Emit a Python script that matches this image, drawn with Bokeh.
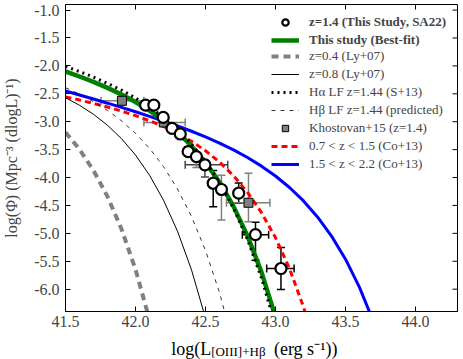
import math
from bokeh.plotting import figure
from bokeh.layouts import column
from bokeh.models import (ColumnDataSource, Whisker, TeeHead, Legend, LegendItem,
                          FixedTicker, Range1d)
from bokeh.core.properties import value
from bokeh.embed import file_html
from bokeh.resources import INLINE

# ---------------- data ----------------
x_ticks = [41.5, 42.0, 42.5, 43.0, 43.5, 44.0]
x_tick_labels = ["41.5", "42.0", "42.5", "43.0", "43.5", "44.0"]
y_ticks = [-6.0, -5.5, -5.0, -4.5, -4.0, -3.5, -3.0, -2.5, -2.0, -1.5, -1.0]
y_tick_labels = ["-6.0", "-5.5", "-5.0", "-4.5", "-4.0", "-3.5", "-3.0", "-2.5", "-2.0", "-1.5", "-1.0"]

# This study data points (z=1.4, SA22)
obs_logL = [42.072, 42.131, 42.198, 42.261, 42.320, 42.376, 42.435, 42.496, 42.555, 42.614, 42.737, 42.857, 43.039]
obs_phi = [-2.702, -2.702, -2.923, -3.120, -3.220, -3.536, -3.625, -3.773, -4.102, -4.214, -4.280, -5.023, -5.630]
obs_phi_lo = [-2.75, -2.75, -2.98, -3.18, -3.29, -3.62, -3.82, -3.99, -4.525, -4.76, -4.46, -5.48, -6.005]
obs_phi_hi = [-2.65, -2.65, -2.87, -3.06, -3.15, -3.45, -3.57, -3.69, -3.875, -3.96, -4.10, -4.80, -5.255]
obs_logL_lo = [42.072, 42.131, 42.198, 42.261, 42.320, 42.376, 42.435, 42.355, 42.555, 42.614, 42.737, 42.763, 42.937]
obs_logL_hi = [42.072, 42.131, 42.198, 42.261, 42.320, 42.376, 42.435, 42.659, 42.555, 42.614, 42.737, 42.951, 43.133]
obs_err_color = ["black", "black", "black", "black", "black", "black", "gray", "#444444",
                 "black", "gray", "black", "black", "black"]

# Khostovan+15 (z=1.4)
kh_logL = [41.903, 42.202, 42.807]
kh_phi = [-2.625, -3.013, -4.452]
kh_phi_lo = [-2.70, -3.06, -4.793]
kh_phi_hi = [-2.55, -2.97, -3.923]
kh_logL_lo = [41.754, 42.060, 42.650]
kh_logL_hi = [42.060, 42.355, 42.960]

# Curves
best_logL = [41.5, 41.6, 41.7, 41.8, 41.9, 42.0, 42.1, 42.2, 42.3, 42.4, 42.5, 42.6, 42.7, 42.8, 42.9, 43.0, 43.1]
best_phi = [-2.100, -2.190, -2.287, -2.394, -2.513, -2.647, -2.801, -2.978, -3.187, -3.433,
            -3.728, -4.084, -4.517, -5.045, -5.695, -6.498, -7.493]

ha_logL = [41.5, 41.6, 41.7, 41.8, 41.9, 42.0, 42.1, 42.2, 42.3, 42.4, 42.5, 42.6, 42.7, 42.8, 42.9, 43.0, 43.1]
ha_phi = [-2.010, -2.102, -2.202, -2.312, -2.435, -2.575, -2.735, -2.922, -3.140, -3.400,
          -3.712, -4.089, -4.548, -5.110, -5.802, -6.659, -7.721]

ly04_logL = [41.5, 41.6, 41.7, 41.8, 41.9, 42.0, 42.1]
ly04_phi = [-3.190, -3.496, -3.873, -4.341, -4.922, -5.645, -6.548]

ly08_logL = [41.5, 41.6, 41.7, 41.8, 41.9, 42.0, 42.1, 42.2, 42.3, 42.4, 42.5]
ly08_phi = [-2.570, -2.705, -2.867, -3.064, -3.303, -3.597, -3.958, -4.406, -4.962, -5.654, -6.518]

hb_logL = [41.5, 41.6, 41.7, 41.8, 41.9, 42.0, 42.1, 42.2, 42.3, 42.4, 42.5, 42.6, 42.7]
hb_phi = [-2.390, -2.506, -2.640, -2.798, -2.984, -3.207, -3.477, -3.804, -4.205, -4.698, -5.306, -6.061, -6.999]

co_lo_logL = [41.5, 41.6, 41.7, 41.8, 41.9, 42.0, 42.1, 42.2, 42.3, 42.4, 42.5, 42.6, 42.7, 42.8,
              42.9, 43.0, 43.1, 43.2, 43.3]
co_lo_phi = [-2.555, -2.611, -2.672, -2.737, -2.810, -2.890, -2.982, -3.086, -3.208, -3.351, -3.520,
             -3.722, -3.967, -4.265, -4.629, -5.077, -5.631, -6.318, -7.173]

co_hi_logL = [41.5, 41.6, 41.7, 41.8, 41.9, 42.0, 42.1, 42.2, 42.3, 42.4, 42.5, 42.6, 42.7, 42.8,
              42.9, 43.0, 43.1, 43.2, 43.3, 43.4, 43.5, 43.6, 43.7]
co_hi_phi = [-2.450, -2.522, -2.594, -2.668, -2.744, -2.822, -2.903, -2.987, -3.076, -3.171, -3.272,
             -3.383, -3.505, -3.641, -3.796, -3.973, -4.178, -4.419, -4.705, -5.048, -5.463, -5.967, -6.585]

legend_labels = ["z=1.4 (This Study, SA22)", "This study (Best-fit)", "z=0.4 (Ly+07)",
                 "z=0.8 (Ly+07)", "H\u03b1 LF z=1.44 (S+13)", "H\u03b2 LF z=1.44 (predicted)",
                 "Khostovan+15 (z=1.4)", "0.7 < z < 1.5 (Co+13)", "1.5 < z < 2.2 (Co+13)"]

y_label = "log(\u03a6) (Mpc\u207b\u00b3 (dlogL)\u207b\u00b9)"
x_label_parts = ["log(L", "[OIII]+H\u03b2", "(erg s\u207b\u00b9))"]

X_MIN, X_MAX = 41.5, 44.3
Y_MIN, Y_MAX = -6.4, -0.9

# ---------------- main figure ----------------
SERIF = "Liberation Serif"
W = 463
MAIN_H = 335
LAB_H = 24
BORDER_L, BORDER_R = 64, 6
p = figure(width=W, height=MAIN_H, output_backend="svg", toolbar_location=None,
           x_range=Range1d(X_MIN, X_MAX), y_range=Range1d(Y_MIN, Y_MAX),
           min_border_left=BORDER_L, min_border_right=BORDER_R, min_border_top=4, min_border_bottom=24)
p.grid.visible = False
p.outline_line_color = "black"
p.background_fill_color = "white"

for ax, ticks, labels in ((p.xaxis[0], x_ticks, x_tick_labels), (p.yaxis[0], y_ticks, y_tick_labels)):
    ax.ticker = FixedTicker(ticks=ticks)
    ax.major_label_overrides = dict(zip(ticks, labels))
    ax.major_tick_in = 5
    ax.major_tick_out = 0
    ax.minor_tick_line_color = None
    ax.major_label_text_font = SERIF
    ax.major_label_text_font_size = "16px"
    ax.major_label_standoff = 6
    ax.axis_line_color = "black"
p.xaxis[0].major_label_standoff = 4

p.yaxis[0].axis_label = y_label
p.yaxis[0].axis_label_text_font = SERIF
p.yaxis[0].axis_label_text_font_size = "16px"
p.yaxis[0].axis_label_text_font_style = "normal"
p.yaxis[0].axis_label_standoff = 11

# mirrored inward ticks on the top and right edges (clipped to the frame)
p.scatter(x_ticks, [Y_MAX] * len(x_ticks), marker="dash", size=10, angle=math.pi / 2,
          line_color="black", line_width=1)
p.scatter([X_MAX] * len(y_ticks), y_ticks, marker="dash", size=10,
          line_color="black", line_width=1)

# ---------------- curves ----------------
r_blue = p.line(co_hi_logL, co_hi_phi, line_color="#0000ff", line_width=3)
r_red = p.line(co_lo_logL, co_lo_phi, line_color="#ff0000", line_width=3, line_dash="6 4")
r_ly04 = p.line(ly04_logL, ly04_phi, line_color="#808080", line_width=4, line_dash="7 5")
r_ly08 = p.line(ly08_logL, ly08_phi, line_color="black", line_width=1)
r_hb = p.line(hb_logL, hb_phi, line_color="black", line_width=0.8, line_dash="4 5")
r_best = p.line(best_logL, best_phi, line_color="#008000", line_width=4.5)
r_ha = p.line(ha_logL, ha_phi, line_color="black", line_width=3, line_dash="2 4")

# ---------------- error bars ----------------
def add_whiskers(xs, ys, ylo, yhi, xlo, xhi, color):
    src = ColumnDataSource(dict(x=xs, y=ys, ylo=ylo, yhi=yhi, xlo=xlo, xhi=xhi))
    p.add_layout(Whisker(source=src, base="x", lower="ylo", upper="yhi", dimension="height",
                         line_color=color, line_width=1.5,
                         lower_head=TeeHead(size=8, line_color=color, line_width=1.5),
                         upper_head=TeeHead(size=8, line_color=color, line_width=1.5)))
    p.add_layout(Whisker(source=src, base="y", lower="xlo", upper="xhi", dimension="width",
                         line_color=color, line_width=1.5,
                         lower_head=TeeHead(size=8, line_color=color, line_width=1.5),
                         upper_head=TeeHead(size=8, line_color=color, line_width=1.5)))

for col in sorted(set(obs_err_color)):
    idx = [i for i, c in enumerate(obs_err_color) if c == col]
    add_whiskers([obs_logL[i] for i in idx], [obs_phi[i] for i in idx],
                 [obs_phi_lo[i] for i in idx], [obs_phi_hi[i] for i in idx],
                 [obs_logL_lo[i] for i in idx], [obs_logL_hi[i] for i in idx], col)
add_whiskers(kh_logL, kh_phi, kh_phi_lo, kh_phi_hi, kh_logL_lo, kh_logL_hi, "gray")

r_kh = p.scatter(kh_logL, kh_phi, marker="square", size=9, fill_color="#808080",
                 line_color="black", line_width=1)
r_obs = p.scatter(obs_logL, obs_phi, marker="circle", size=11, fill_color="white",
                  line_color="black", line_width=2.2)

# ---------------- legends ----------------
common = dict(label_text_font=SERIF, label_text_font_size="13px", glyph_width=28,
              glyph_height=16, label_height=16, label_standoff=10, spacing=2, padding=0,
              margin=0, border_line_color=None, background_fill_alpha=0)
leg1 = Legend(items=[LegendItem(label=legend_labels[0], renderers=[r_obs]),
                     LegendItem(label=legend_labels[1], renderers=[r_best])],
              location=(206, 263), label_text_font_style="bold", **common)
leg2 = Legend(items=[LegendItem(label=legend_labels[2], renderers=[r_ly04]),
                     LegendItem(label=legend_labels[3], renderers=[r_ly08]),
                     LegendItem(label=legend_labels[4], renderers=[r_ha]),
                     LegendItem(label=legend_labels[5], renderers=[r_hb]),
                     LegendItem(label=legend_labels[6], renderers=[r_kh]),
                     LegendItem(label=legend_labels[7], renderers=[r_red]),
                     LegendItem(label=legend_labels[8], renderers=[r_blue])],
              location=(206, 139), **common)
p.add_layout(leg1)
p.add_layout(leg2)

# ---------------- x axis label strip (with subscript) ----------------
# the column aligns this strip's frame with the main plot frame, so its x range
# is expressed in page pixels spanning that frame
lab = figure(width=W, height=LAB_H, output_backend="svg", toolbar_location=None,
             x_range=Range1d(BORDER_L, W - BORDER_R), y_range=Range1d(0, LAB_H),
             min_border_left=BORDER_L, min_border_right=BORDER_R, min_border_top=0,
             min_border_bottom=0, x_axis_type=None, y_axis_type=None)
lab.grid.visible = False
lab.outline_line_color = None
lab.text(x=[210], y=[11], text=[x_label_parts[0]], text_font=value(SERIF),
         text_font_size=value("18px"), text_align="right", text_baseline="alphabetic",
         text_color="black")
lab.text(x=[210], y=[8], text=[x_label_parts[1]], text_font=value(SERIF),
         text_font_size=value("13px"), text_align="left", text_baseline="alphabetic",
         text_color="black")
lab.text(x=[273], y=[11], text=[x_label_parts[2]], text_font=value(SERIF),
         text_font_size=value("18px"), text_align="left", text_baseline="alphabetic",
         text_color="black")

layout = column(p, lab, spacing=0)
open("out.html", "w").write(file_html(layout, INLINE))
